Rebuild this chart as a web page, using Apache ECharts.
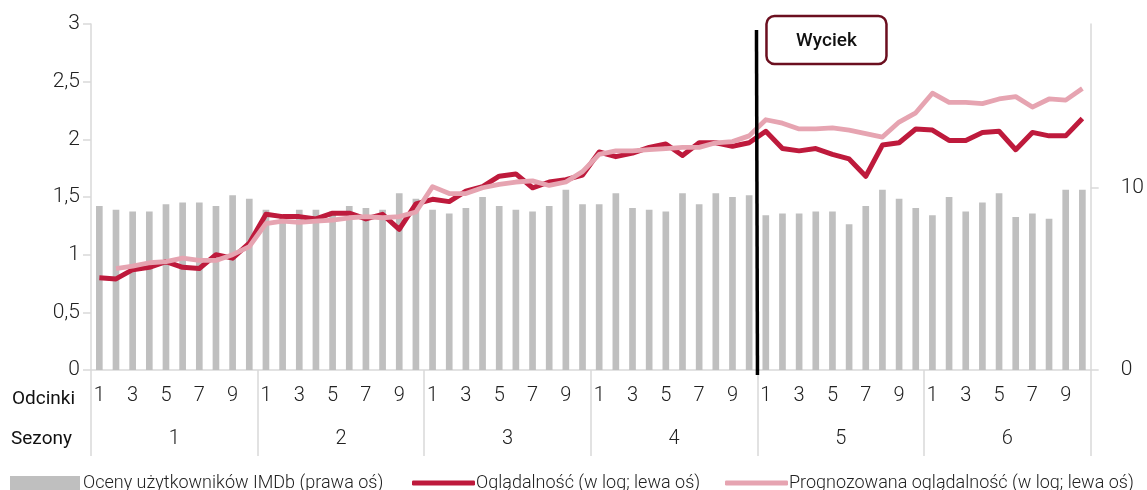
<!DOCTYPE html>
<html>
<head>
<meta charset="utf-8">
<script src="https://cdn.jsdelivr.net/npm/echarts@6/dist/echarts.min.js"></script>
<style>
html,body{margin:0;padding:0;background:#fff;}
#chart{width:1147px;height:490px;}
</style>
</head>
<body>
<div id="chart"></div>
<script>
// ---- DATA ----
const seasons = ['1', '2', '3', '4', '5', '6'];
const episodesPerSeason = 10;
const episodeLabels = [];
seasons.forEach(function () { for (let e = 1; e <= episodesPerSeason; e++) episodeLabels.push(String(e)); });

const imdbRatings = [
  9.0, 8.8, 8.7, 8.7, 9.1, 9.2, 9.2, 9.0, 9.6, 9.4,
  8.8, 8.5, 8.8, 8.8, 8.7, 9.0, 8.9, 8.8, 9.7, 9.4,
  8.8, 8.6, 8.9, 9.5, 9.0, 8.8, 8.7, 9.0, 9.9, 9.1,
  9.1, 9.7, 8.9, 8.8, 8.7, 9.7, 9.1, 9.7, 9.5, 9.6,
  8.5, 8.6, 8.6, 8.7, 8.7, 8.0, 9.0, 9.9, 9.4, 8.9,
  8.5, 9.5, 8.7, 9.2, 9.7, 8.4, 8.6, 8.3, 9.9, 9.9
];

const viewershipLog = [
  0.80, 0.79, 0.87, 0.89, 0.94, 0.89, 0.88, 1.00, 0.97, 1.10,
  1.35, 1.33, 1.33, 1.31, 1.36, 1.36, 1.31, 1.35, 1.22, 1.44,
  1.48, 1.46, 1.55, 1.59, 1.68, 1.70, 1.58, 1.63, 1.65, 1.69,
  1.89, 1.85, 1.88, 1.93, 1.96, 1.86, 1.97, 1.97, 1.94, 1.97,
  2.07, 1.92, 1.90, 1.92, 1.87, 1.83, 1.68, 1.95, 1.97, 2.09,
  2.08, 1.99, 1.99, 2.06, 2.07, 1.91, 2.06, 2.03, 2.03, 2.18
];

const forecastLog = [
  null, 0.88, 0.90, 0.93, 0.94, 0.97, 0.95, 0.95, 1.00, 1.07,
  1.27, 1.29, 1.28, 1.29, 1.30, 1.32, 1.33, 1.32, 1.33, 1.37,
  1.59, 1.53, 1.53, 1.58, 1.61, 1.63, 1.64, 1.60, 1.63, 1.72,
  1.87, 1.90, 1.90, 1.91, 1.92, 1.93, 1.93, 1.97, 1.98, 2.03,
  2.17, 2.14, 2.09, 2.09, 2.10, 2.08, 2.05, 2.02, 2.15, 2.23,
  2.40, 2.32, 2.32, 2.31, 2.35, 2.37, 2.28, 2.35, 2.34, 2.44
];

const leftTicks = { min: 0, max: 3, interval: 0.5 };
const rightTicks = { min: 0, max: 19, values: [0, 10] };
const leakAfterIndex = 39; // leak line between episode 40 and 41
const leakLabel = 'Wyciek';
const seriesNames = ['Oceny użytkowników IMDb (prawa oś)', 'Oglądalność (w log; lewa oś)', 'Prognozowana oglądalność (w log; lewa oś)'];
const rowLabels = ['Odcinki', 'Sezony'];

// ---- CHART ----
const FONT = 'Roboto';
const TXT = '#222';
const AXIS = '#d9d9d9';
const chart = echarts.init(document.getElementById('chart'), null, { renderer: 'canvas' });

const option = {
  animation: false,
  backgroundColor: '#fff',
  grid: { left: 91, right: 54, top: 24, bottom: 120 },
  xAxis: [
    {
      type: 'category', data: episodeLabels, position: 'bottom',
      axisLine: { show: true, lineStyle: { color: AXIS, width: 1.5 } },
      axisTick: { show: false },
      axisLabel: {
        interval: function (i) { return i % 2 === 0; },
        margin: 16, fontSize: 20, color: TXT, fontFamily: FONT, fontWeight: 300
      }
    },
    {
      type: 'category', data: seasons, position: 'bottom',
      axisLine: { show: false },
      axisTick: { show: true, length: 86, lineStyle: { color: AXIS, width: 1.5 } },
      axisLabel: { margin: 59, fontSize: 20, color: TXT, fontFamily: FONT, fontWeight: 300 }
    }
  ],
  yAxis: [
    {
      type: 'value', min: leftTicks.min, max: leftTicks.max, interval: leftTicks.interval,
      splitLine: { show: false },
      axisLine: { show: true, lineStyle: { color: AXIS, width: 1.5 } },
      axisTick: { show: true, length: 8, lineStyle: { color: AXIS, width: 1.5 } },
      axisLabel: {
        margin: 11, fontSize: 21, color: TXT, fontFamily: FONT, fontWeight: 300,
        formatter: function (v) { return String(v).replace('.', ','); }
      }
    },
    {
      type: 'value', min: rightTicks.min, max: rightTicks.max,
      position: 'right',
      splitLine: { show: false },
      axisLine: { show: true, lineStyle: { color: AXIS, width: 1.5 } },
      axisTick: { show: true, length: 8, customValues: rightTicks.values, lineStyle: { color: AXIS, width: 1.5 } },
      axisLabel: {
        margin: 30, fontSize: 21, color: TXT, fontFamily: FONT, fontWeight: 300,
        customValues: rightTicks.values
      }
    }
  ],
  legend: [
    {
      data: [{ name: seriesNames[0], icon: 'rect' }],
      left: 5, top: 469, itemWidth: 70, itemHeight: 14, itemGap: 5,
      textStyle: { fontSize: 18, color: TXT, fontFamily: FONT, fontWeight: 300, padding: [0, 0, 0, -2] }
    },
    {
      data: [{ name: seriesNames[1], icon: 'roundRect' }],
      left: 407, top: 469, itemWidth: 63, itemHeight: 5, itemGap: 5,
      textStyle: { fontSize: 18, color: TXT, fontFamily: FONT, fontWeight: 300, padding: [0, 0, 0, -4] }
    },
    {
      data: [{ name: seriesNames[2], icon: 'roundRect' }],
      left: 720, top: 469, itemWidth: 63, itemHeight: 5, itemGap: 5,
      textStyle: { fontSize: 18, color: TXT, fontFamily: FONT, fontWeight: 300, padding: [0, 0, 0, -4] }
    }
  ],
  series: [
    {
      name: seriesNames[0], type: 'bar', xAxisIndex: 0, yAxisIndex: 1,
      data: imdbRatings, barWidth: '40%',
      itemStyle: { color: '#bfbfbf' }
    },
    {
      name: seriesNames[1], type: 'line', xAxisIndex: 0, yAxisIndex: 0,
      data: viewershipLog, showSymbol: false, symbol: 'none',
      lineStyle: { color: '#be1a3c', width: 5, join: 'round' },
      itemStyle: { color: '#be1a3c' }, z: 3
    },
    {
      name: seriesNames[2], type: 'line', xAxisIndex: 0, yAxisIndex: 0,
      data: forecastLog, showSymbol: false, symbol: 'none', connectNulls: false,
      lineStyle: { color: '#e6a4b1', width: 4.8, join: 'round' },
      itemStyle: { color: '#e6a4b1' }, z: 4
    }
  ]
};
chart.setOption(option);

// Leak marker: position derived from the category axis scale
const xA = chart.convertToPixel({ xAxisIndex: 0 }, leakAfterIndex);
const xB = chart.convertToPixel({ xAxisIndex: 0 }, leakAfterIndex + 1);
const leakX = (xA + xB) / 2 - 1;
const yTop = chart.convertToPixel({ yAxisIndex: 0 }, leftTicks.max);
const yBottom = chart.convertToPixel({ yAxisIndex: 0 }, leftTicks.min);

chart.setOption({
  graphic: [
    {
      type: 'line', z: 100,
      shape: { x1: leakX, y1: yTop + 6, x2: leakX + 1, y2: yBottom + 5 },
      style: { stroke: '#000', lineWidth: 3.5 }
    },
    {
      type: 'rect', z: 100,
      shape: { x: leakX + 10, y: yTop - 8, width: 120, height: 48, r: 8 },
      style: { fill: '#fff', stroke: '#6b0f1f', lineWidth: 2.5 }
    },
    {
      type: 'text', z: 101,
      x: leakX + 70, y: yTop + 17,
      style: { text: leakLabel, fontSize: 19, fontFamily: FONT, fontWeight: 500, fill: '#111', align: 'center', verticalAlign: 'middle' }
    },
    {
      type: 'text', z: 101, x: 12, y: 399,
      style: { text: rowLabels[0], fontSize: 19, fontFamily: FONT, fontWeight: 400, fill: '#111', align: 'left', verticalAlign: 'middle' }
    },
    {
      type: 'text', z: 101, x: 11, y: 439,
      style: { text: rowLabels[1], fontSize: 19, fontFamily: FONT, fontWeight: 400, fill: '#111', align: 'left', verticalAlign: 'middle' }
    }
  ]
});
</script>
</body>
</html>
